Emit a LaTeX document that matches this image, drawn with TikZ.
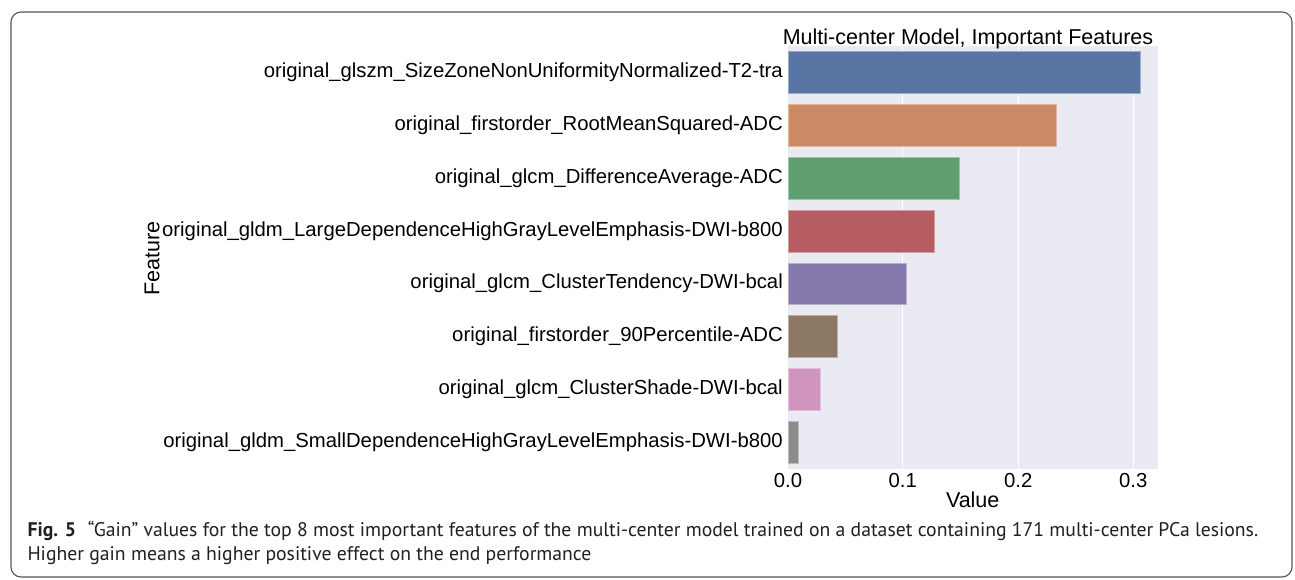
\documentclass[tikz,border=0pt]{standalone}
\usepackage{fontspec}
\setmainfont{Liberation Sans}
\newfontfamily\capfont{PT Sans}
\definecolor{bgplot}{HTML}{EAEAF2}
\definecolor{framecol}{HTML}{555555}
\definecolor{captxt}{HTML}{231F20}
\definecolor{cA}{HTML}{5975A4}
\definecolor{cB}{HTML}{CC8963}
\definecolor{cC}{HTML}{5F9E6E}
\definecolor{cD}{HTML}{B55D60}
\definecolor{cE}{HTML}{857AAB}
\definecolor{cF}{HTML}{8D7866}
\definecolor{cG}{HTML}{D095BF}
\definecolor{cH}{HTML}{8C8C8C}
\begin{document}
\begin{tikzpicture}[x=1pt,y=-1pt,
  ylab/.style={font=\fontsize{20.3}{22}\selectfont, inner sep=0pt, anchor=east},
  xlab/.style={font=\fontsize{20.3}{22}\selectfont, inner sep=0pt},
  axlab/.style={font=\fontsize{21.5}{23}\selectfont, inner sep=0pt},
  capline/.style={font=\capfont\fontsize{19.7}{23}\selectfont, text=captxt, inner sep=0pt, anchor=base west},
  barbox/.style={line width=0.6pt}]
\useasboundingbox (0,0) rectangle (1295,580);
\fill[white] (0,0) rectangle (1295,580);
\draw[framecol, line width=1.1pt, rounded corners=10pt] (11,12) rectangle (1292,577);
% plot area
\fill[bgplot] (788,46.1) rectangle (1157.7,468.6);
\foreach \x in {902.7,1018.3,1133.3} \draw[white, line width=0.9pt] (\x,46.1) -- (\x,468.6);
% bars
\filldraw[barbox, fill=cA, draw=cA!60!white] (788,51.6) rectangle (1140,93.4);
\filldraw[barbox, fill=cB, draw=cB!60!white] (788,104.4) rectangle (1056,146.2);
\filldraw[barbox, fill=cC, draw=cC!60!white] (788,157.2) rectangle (959,199.0);
\filldraw[barbox, fill=cD, draw=cD!60!white] (788,210.0) rectangle (934.3,251.8);
\filldraw[barbox, fill=cE, draw=cE!60!white] (788,262.8) rectangle (906.7,304.6);
\filldraw[barbox, fill=cF, draw=cF!60!white] (788,315.6) rectangle (837.7,357.4);
\filldraw[barbox, fill=cG, draw=cG!60!white] (788,368.4) rectangle (820.7,410.2);
\filldraw[barbox, fill=cH, draw=cH!60!white] (788,421.2) rectangle (798.7,463.0);
% feature labels
\node[ylab] (f1) at (783,72.5) {original\_glszm\_SizeZoneNonUniformityNormalized-T2-tra};
\node[ylab] (f2) at (783,125.3) {original\_firstorder\_RootMeanSquared-ADC};
\node[ylab] (f3) at (783,178.1) {original\_glcm\_DifferenceAverage-ADC};
\node[ylab] (f4) at (783,230.9) {original\_gldm\_LargeDependenceHighGrayLevelEmphasis-DWI-b800};
\node[ylab] (f5) at (783,283.7) {original\_glcm\_ClusterTendency-DWI-bcal};
\node[ylab] (f6) at (783,336.5) {original\_firstorder\_90Percentile-ADC};
\node[ylab] (f7) at (783,389.3) {original\_glcm\_ClusterShade-DWI-bcal};
\node[ylab] (f8) at (783,442.1) {original\_gldm\_SmallDependenceHighGrayLevelEmphasis-DWI-b800};
% x tick labels
\node[xlab] (t0) at (788,481) {0.0};
\node[xlab] (t1) at (902.7,481) {0.1};
\node[xlab] (t2) at (1018.3,481) {0.2};
\node[xlab] (t3) at (1133.3,481) {0.3};
% axis labels and title
\node[axlab] (xl) at (972.7,500) {Value};
\node[axlab, rotate=90] (yl) at (152,258.5) {Feature};
\node[axlab, anchor=base] (title) at (968,45) {Multi-center Model, Important Features};
% caption
\node[capline] (cap1) at (27.3,536.7) {\textbf{Fig. 5}\hspace{0.6em}“Gain” values for the top 8 most important features of the multi-center model trained on a dataset containing 171 multi-center PCa lesions.};
\node[capline] (cap2) at (27.3,560) {Higher gain means a higher positive effect on the end performance};
\end{tikzpicture}
\end{document}
